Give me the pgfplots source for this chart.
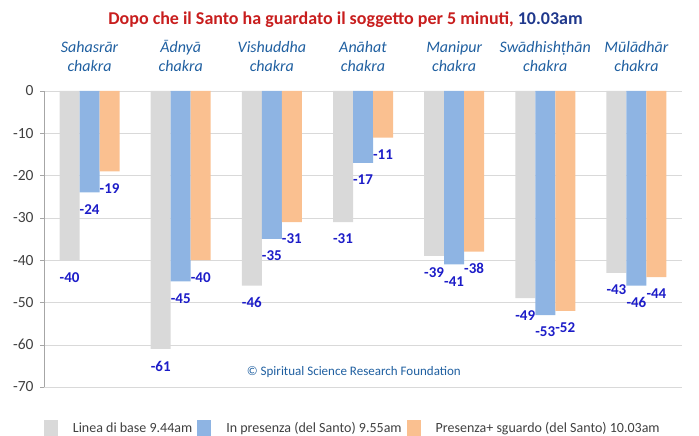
\documentclass[border=0pt]{standalone}
\usepackage{pgfplots}
\pgfplotsset{compat=1.18}
\usepackage{fontspec}
\setmainfont{Carlito}
\definecolor{cgrey}{RGB}{217,217,217}
\definecolor{cblue}{RGB}{142,180,227}
\definecolor{corange}{RGB}{250,192,144}
\definecolor{lblue}{RGB}{28,28,200}
\definecolor{catblue}{RGB}{31,95,160}
\definecolor{tred}{RGB}{200,30,30}
\definecolor{tblue}{RGB}{31,56,140}
\definecolor{txtgrey}{RGB}{64,64,64}
\definecolor{gridgrey}{RGB}{217,217,217}
\definecolor{axgrey}{RGB}{166,166,166}
\begin{document}
\begin{tikzpicture}
\path[use as bounding box] (0,0) rectangle (699pt,436pt);
\node[font=\bfseries\fontsize{18}{21}\selectfont, anchor=base, inner sep=0pt] at (345.5pt,411pt)
  {\textcolor{tred}{Dopo che il Santo ha guardato il soggetto per 5 minuti,} \textcolor{tblue}{10.03am}};
\begin{axis}[
  at={(44pt,49pt)}, anchor=south west,
  scale only axis, width=638pt, height=296pt,
  xmin=-0.5, xmax=6.5, ymin=-70, ymax=0,
  ybar=0pt, bar width=20pt,
  axis x line*=top, axis y line*=left,
  x axis line style={draw=gridgrey},
  y axis line style={draw=axgrey},
  xtick={0,1,2,3,4,5,6},
  xticklabels={Sahasrār\\chakra, Ādnyā\\chakra, Vishuddha\\chakra, Anāhat\\chakra, Manipur\\chakra, Swādhishṭhān\\chakra, Mūlādhār\\chakra},
  xticklabel style={align=center, font=\itshape\fontsize{16}{19}\selectfont, text=catblue, yshift=12pt},
  xtick style={draw=none},
  ytick={0,-10,-20,-30,-40,-50,-60,-70},
  yticklabel style={font=\fontsize{15.5}{17}\selectfont, text=txtgrey, xshift=-3pt},
  ytick style={draw=axgrey}, tick align=outside, major tick length=4pt,
  ymajorgrids, grid style={draw=gridgrey},
  /pgf/number format/assume math mode=true,
  nodes near coords,
  every node near coord/.append style={font=\bfseries\fontsize{15}{17}\selectfont, text=lblue, anchor=center, yshift=-17pt},
  legend style={at={(0.484,-0.139)}, anchor=center, draw=none, fill=none,
    legend columns=3, font=\fontsize{14}{16}\selectfont, text=txtgrey,
    /tikz/every odd column/.append style={column sep=13pt},
    /tikz/every even column/.append style={column sep=3pt}},
]
\addplot[fill=cgrey, draw=none, legend image code/.code={\fill[cgrey] (0pt,-8pt) rectangle (14pt,8pt);}] coordinates {(0,-40) (1,-61) (2,-46) (3,-31) (4,-39) (5,-49) (6,-43)};
\addplot[fill=cblue, draw=none, legend image code/.code={\fill[cblue] (0pt,-8pt) rectangle (14pt,8pt);}] coordinates {(0,-24) (1,-45) (2,-35) (3,-17) (4,-41) (5,-53) (6,-46)};
\addplot[fill=corange, draw=none, legend image code/.code={\fill[corange] (0pt,-8pt) rectangle (14pt,8pt);}] coordinates {(0,-19) (1,-40) (2,-31) (3,-11) (4,-38) (5,-52) (6,-44)};
\legend{Linea di base 9.44am, In presenza (del Santo) 9.55am, Presenza+ sguardo (del Santo) 10.03am}
\node[font=\fontsize{13}{15}\selectfont, text=catblue] at (axis cs:2.9,-66.5) {© Spiritual Science Research Foundation};
\end{axis}
\end{tikzpicture}
\end{document}
